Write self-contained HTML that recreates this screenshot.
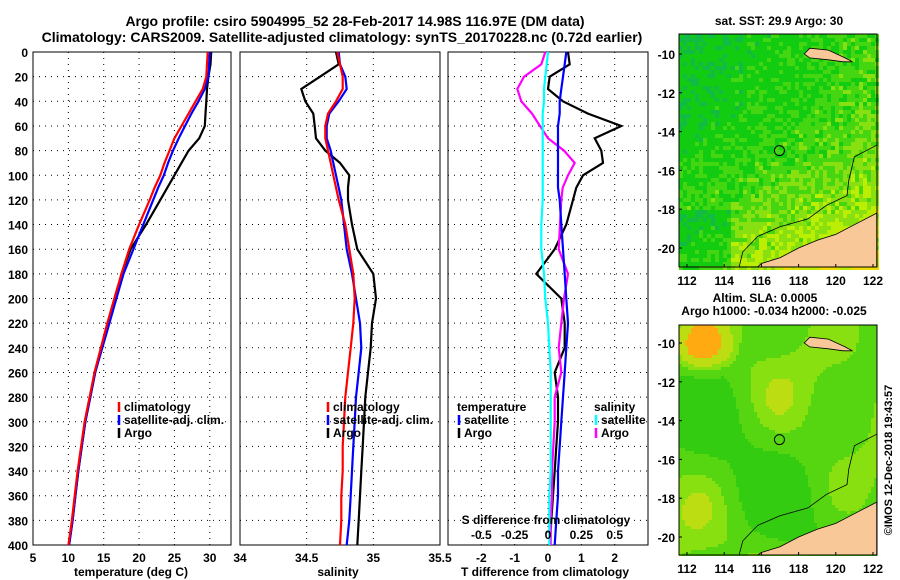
<!DOCTYPE html>
<html><head><meta charset="utf-8">
<style>
body{margin:0;background:#fff;}
svg{display:block;font-family:"Liberation Sans",sans-serif;font-weight:bold;}
</style></head>
<body>
<svg id="chart" width="900" height="580" viewBox="0 0 900 580">
<text x="355" y="26" font-size="14" text-anchor="middle">Argo profile: csiro 5904995_52 28-Feb-2017 14.98S 116.97E (DM data)</text>
<text x="342" y="42" font-size="14" text-anchor="middle">Climatology: CARS2009. Satellite-adjusted climatology: synTS_20170228.nc (0.72d earlier)</text>
<g id="plots"></g>
<text x="892" y="460" font-size="11" text-anchor="middle" transform="rotate(-90 892 460)">©IMOS 12-Dec-2018 19:43:57</text>
</svg>
<script>
// ---------- data ----------
const depthTicks=[0,20,40,60,80,100,120,140,160,180,200,220,240,260,280,300,320,340,360,380,400];
const tDepth=[0,10,20,30,40,50,60,70,80,90,100,110,120,140,160,180,200,220,240,260,280,300,320,340,360,380,400];
const tempClim=[29.7,29.6,29.5,29.0,28.0,27.0,26.0,25.0,24.3,23.6,23.0,22.2,21.5,20.0,18.6,17.5,16.5,15.5,14.6,13.7,13.0,12.3,11.8,11.3,10.9,10.5,10.0];
const tempSat=[30.0,29.9,29.8,29.3,28.4,27.4,26.5,25.6,24.8,24.1,23.5,22.7,22.0,20.6,19.2,17.8,16.8,15.8,14.8,13.8,13.1,12.4,11.9,11.4,11.0,10.6,10.1];
const tempArgo=[30.2,30.1,29.8,29.6,29.5,29.4,29.3,28.5,27.0,26.0,25.0,24.0,23.0,21.0,18.8,17.5,16.7,15.7,14.7,13.8,13.1,12.4,11.9,11.4,11.0,10.6,10.1];
const salClim=[34.73,34.75,34.77,34.77,34.72,34.66,34.64,34.64,34.66,34.68,34.70,34.72,34.74,34.79,34.82,34.85,34.86,34.85,34.83,34.81,34.79,34.78,34.77,34.77,34.76,34.76,34.75];
const salSat=[34.74,34.75,34.79,34.80,34.74,34.67,34.65,34.65,34.68,34.70,34.72,34.74,34.76,34.78,34.80,34.84,34.87,34.90,34.91,34.89,34.87,34.86,34.85,34.84,34.83,34.82,34.80];
const salArgo=[34.72,34.74,34.60,34.46,34.49,34.55,34.56,34.57,34.64,34.75,34.82,34.81,34.81,34.84,34.88,35.00,35.02,34.99,34.98,34.96,34.94,34.93,34.92,34.91,34.90,34.89,34.88];
const dTsat=[0.55,0.5,0.45,0.4,0.35,0.35,0.3,0.3,0.3,0.3,0.3,0.3,0.35,0.4,0.45,0.5,0.55,0.6,0.55,0.5,0.45,0.4,0.35,0.3,0.3,0.25,0.2];
const dTargo=[0.6,0.65,0.05,0.0,0.45,1.2,2.2,1.4,1.6,1.65,1.05,0.85,0.75,0.55,0.2,-0.35,0.4,0.5,0.5,0.2,0.3,0.3,0.25,0.2,0.15,0.1,0.05];
const dSsat=[0.0,-0.01,-0.02,-0.03,-0.03,-0.04,-0.04,-0.04,-0.04,-0.04,-0.04,-0.04,-0.04,-0.05,-0.05,-0.03,-0.02,0.0,0.01,0.02,0.02,0.02,0.02,0.02,0.01,0.01,0.01];
const dSargo=[-0.02,-0.05,-0.18,-0.23,-0.2,-0.12,-0.06,0.0,0.12,0.2,0.15,0.11,0.1,0.09,0.08,0.15,0.12,0.1,0.08,0.1,0.05,0.05,0.04,0.03,0.03,0.02,0.02];
const tTicks=[5,10,15,20,25,30];
const sTicks=[34,34.5,35,35.5];
const dTTicks=[-2,-1,0,1,2];
const dSTicks=[-0.5,-0.25,0,0.25,0.5];
const lonTicks=[112,114,116,118,120,122];
const latTicks=[-10,-12,-14,-16,-18,-20];

// ---------- helpers ----------
const NS="http://www.w3.org/2000/svg";
const root=document.getElementById('plots');
function mk(tag,attrs,parent){const e=document.createElementNS(NS,tag);for(const k in attrs)e.setAttribute(k,attrs[k]);(parent||root).appendChild(e);return e;}
const yTop=52,yBot=545;
const yD=d=>yTop+d/400*(yBot-yTop);
function lin(d0,d1,r0,r1){return v=>r0+(v-d0)/(d1-d0)*(r1-r0);}

function frame(x0,x1,xs,ticks,labels,name){
  const g=mk('g',{});
  
  
  ticks.forEach(t=>{const x=xs(t);if(x>x0+1&&x<x1-1)mk('line',{x1:x,y1:yTop,x2:x,y2:yBot,stroke:'#000','stroke-dasharray':'1,5','stroke-width':1},g);});
  depthTicks.forEach(d=>{if(d>0&&d<400)mk('line',{x1:x0,y1:yD(d),x2:x1,y2:yD(d),stroke:'#000','stroke-dasharray':'1,5','stroke-width':1},g);});
  mk('rect',{x:x0,y:yTop,width:x1-x0,height:yBot-yTop,fill:'none',stroke:'#000','stroke-width':1},g);
  return g;
}
function line(xs,xvals,color,name,w){
  const p=tDepth.map((d,i)=>xs(xvals[i]).toFixed(1)+','+yD(d).toFixed(1)).join(' ');
  const e=mk('polyline',{points:p,fill:'none',stroke:color,'stroke-width':w||2.2});
  
  
}
function txt(x,y,s,anchor,size,name){const e=mk('text',{x:x,y:y,'font-size':size||12,'text-anchor':anchor||'start'});e.textContent=s;return e;}
function legend(x,y,color,label,name){mk('line',{x1:x,y1:y-9,x2:x,y2:y+1,stroke:color,'stroke-width':2.5});txt(x+5,y,label,'start',12,name);}

depthTicks.forEach(d=>txt(28,yD(d)+5,String(d),'end',12,'y-tick-label'));

// ---------- panel 1 ----------
const xT=lin(5,33,33,231);
frame(33,231,xT,tTicks,null,'temperature-panel');
tTicks.forEach(t=>txt(xT(t),562,String(t),'middle',12,'x-tick-label-temp'));
line(xT,tempArgo,'#000','argo-temperature-line');
line(xT,tempSat,'#00f','satellite-temperature-line');
line(xT,tempClim,'#f00','climatology-temperature-line');
txt(131,576,'temperature (deg C)','middle',12,'x-axis-title-temp');
legend(119,411,'#f00','climatology','legend-climatology');
legend(119,424,'#00f','satellite-adj. clim.','legend-satellite');
legend(119,437,'#000','Argo','legend-argo');

// ---------- panel 2 ----------
const xS=lin(34,35.5,240,440);
frame(240,440,xS,sTicks,null,'salinity-panel');
sTicks.forEach(t=>txt(xS(t),562,String(t),'middle',12,'x-tick-label-sal'));
line(xS,salArgo,'#000','argo-salinity-line');
line(xS,salSat,'#00f','satellite-salinity-line');
line(xS,salClim,'#f00','climatology-salinity-line');
txt(338,576,'salinity','middle',12,'x-axis-title-sal');
legend(328,411,'#f00','climatology','legend-climatology-2');
legend(328,424,'#00f','satellite-adj. clim.','legend-satellite-2');
legend(328,437,'#000','Argo','legend-argo-2');

// ---------- panel 3 ----------
const xD=lin(-3,3,448,648);
const xDS=lin(-0.75,0.75,448,648);
frame(448,648,xD,dTTicks,null,'difference-panel');
line(xD,dTargo,'#000','argo-t-diff-line');
line(xDS,dSargo,'#f0f','argo-s-diff-line');
line(xD,dTsat,'#00f','satellite-t-diff-line');
line(xDS,dSsat,'#0ff','satellite-s-diff-line');
dTTicks.forEach(t=>txt(xD(t),562,String(t),'middle',12,'x-tick-label-tdiff'));
dSTicks.forEach(t=>txt(xDS(t),539,String(t),'middle',12,'x-tick-label-sdiff'));
txt(546,524,'S difference from climatology','middle',12,'s-diff-axis-title');
txt(545,576,'T difference from climatology','middle',12,'x-axis-title-tdiff');
txt(457,411,'temperature','start',12,'legend-temperature-header');
legend(459,424,'#00f','satellite','legend-t-satellite');
legend(459,437,'#000','Argo','legend-t-argo');
txt(594,411,'salinity','start',12,'legend-salinity-header');
legend(596,424,'#0ff','satellite','legend-s-satellite');
legend(596,437,'#f0f','Argo','legend-s-argo');

// ---------- maps ----------
function hash(a,b){let h=(a*374761393+b*668265263)|0;h=(h^(h>>>13))*1274126177|0;return ((h^(h>>>16))>>>0)/4294967296;}
function map(y0,y1,latTop,latBot,name,kind){
  const x0=679,x1=877;
  const xL=lin(112,122,687,873);
  const yL=lin(-10,-20,y0+latTop,y0+latBot);
  const g=mk('g',{});
  
  
  mk('rect',{x:x0,y:y0,width:x1-x0,height:y1-y0,fill:'#22cc11'},g);
  const c=kind==='sst'?4:3;
  for(let yy=y0;yy<y1;yy+=c){for(let xx=x0;xx<x1;xx+=c){
    const fx=(xx-x0)/(x1-x0),fy=(yy-y0)/(y1-y0);
    let v,col;
    if(kind==='sst'){
      v=0.15+0.4*fx*0.8+0.45*fy*fy+0.3*(hash(xx,yy)-0.5);
      if(fx<0.25&&fy>0.75)v-=0.25;
      col=v<0.15?'#11bb44':v<0.38?'#11cc11':v<0.55?'#44d611':v<0.7?'#88e011':v<0.85?'#bbee00':'#eedd00';
    }else{
      v=0.5+0.18*Math.sin(fx*9+0.5)*Math.cos(fy*8+0.3)+0.12*Math.sin(fx*4-fy*5);
      const d=Math.hypot((fx-0.1)/0.2,(fy-0.1)/0.15);
      if(d<1)v+=0.5*(1-d);
      col=v<0.42?'#33cc11':v<0.58?'#55d611':v<0.68?'#88e011':v<0.85?'#bbdd11':'#ffaa11';
    }
    mk('rect',{x:xx,y:yy,width:c,height:c,fill:col},g);
  }}
  const land=[[122.2,-18.2],[121,-18.8],[120,-19.3],[119,-19.6],[118,-20.0],[117,-20.5],[116,-20.8],[115.8,-21.2],[122.2,-21.2]];
  mk('polygon',{points:land.map(p=>xL(p[0]).toFixed(1)+','+Math.min(yL(p[1]),y1).toFixed(1)).join(' '),fill:'#f8c898',stroke:'#000','stroke-width':0.8},g);
  const isl=[[118.3,-10.0],[118.6,-9.7],[119.6,-9.8],[120.5,-10.2],[120.9,-10.4],[120.4,-10.4],[119.6,-10.3],[118.6,-10.2]];
  mk('polygon',{points:isl.map(p=>xL(p[0]).toFixed(1)+','+yL(p[1]).toFixed(1)).join(' '),fill:'#f8c898',stroke:'#000','stroke-width':0.8},g);
  const iso=[[122.2,-14.7],[121,-15.3],[120.7,-16.5],[120.6,-17.3],[119.5,-17.8],[118.5,-18.5],[117,-18.9],[115.8,-19.4],[115,-20.2],[114.8,-21.2]];
  mk('polyline',{points:iso.map(p=>xL(p[0]).toFixed(1)+','+Math.min(yL(p[1]),y1).toFixed(1)).join(' '),fill:'none',stroke:'#000','stroke-width':0.8},g);
  mk('circle',{cx:xL(116.97),cy:yL(-14.98),r:5,fill:'none',stroke:'#000','stroke-width':1},g);
  mk('rect',{x:x0,y:y0,width:x1-x0,height:y1-y0,fill:'none',stroke:'#000','stroke-width':1},g);
  latTicks.forEach(t=>{mk('line',{x1:x0,y1:yL(t),x2:x0+3,y2:yL(t),stroke:'#000'},g);txt(x0-4,yL(t)+5,String(t),'end',12,'map-lat-label');});
  lonTicks.forEach(t=>{mk('line',{x1:xL(t),y1:y1,x2:xL(t),y2:y1-3,stroke:'#000'},g);txt(xL(t),y1+18,String(t),'middle',12,'map-lon-label');});
}
map(34,267,20,214,'sst-map','sst');
map(325,555,18,212,'sla-map','sla');
txt(779,25,'sat. SST: 29.9 Argo: 30','middle',12,'sst-map-title');
txt(765,302,'Altim. SLA: 0.0005','middle',12,'sla-map-title');
txt(774,315,'Argo h1000: -0.034 h2000: -0.025','middle',12,'sla-map-subtitle');
</script>
</body></html>
